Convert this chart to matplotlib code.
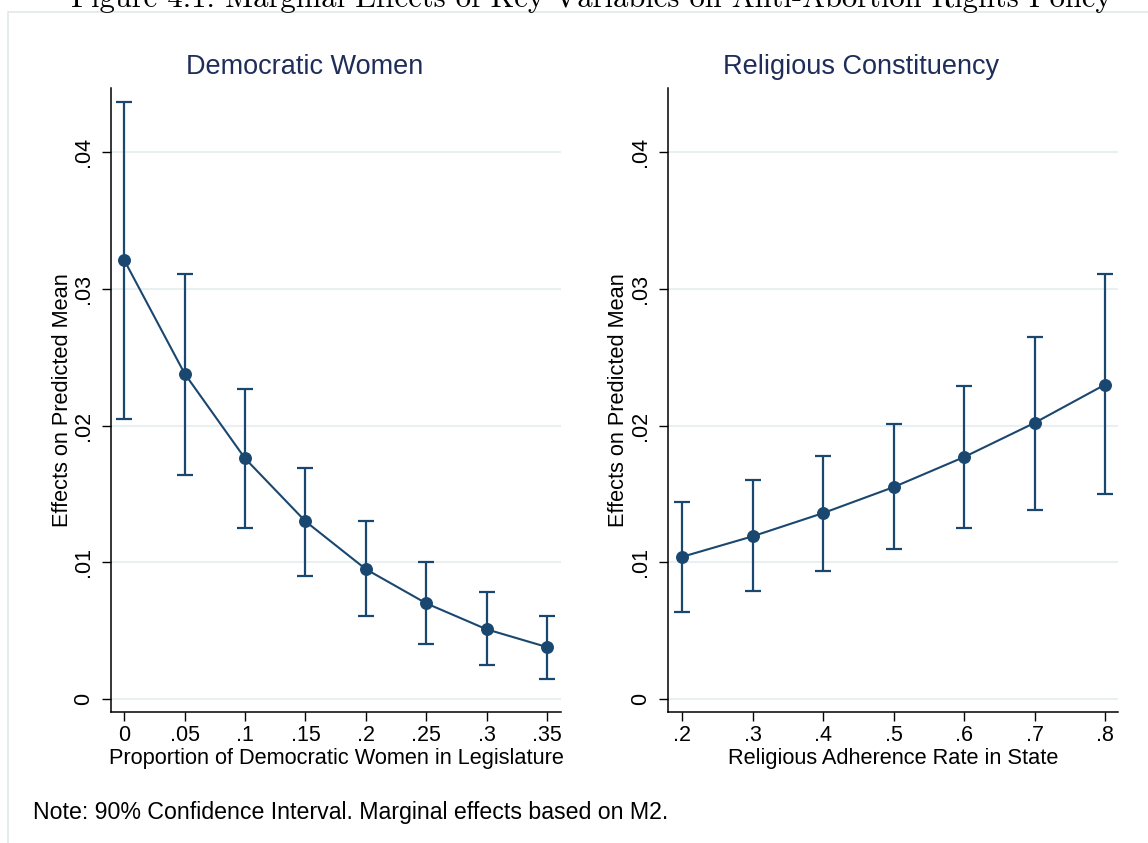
import matplotlib
matplotlib.use("Agg")
import matplotlib.pyplot as plt
from matplotlib.patches import Rectangle

# Marginal effects with 90% confidence bounds
dem_women_x = [0, 0.05, 0.10, 0.15, 0.20, 0.25, 0.30, 0.35]
dem_women_eff = [0.0321, 0.0238, 0.0176, 0.0130, 0.0095, 0.0070, 0.0051, 0.0038]
dem_women_lo = [0.0205, 0.0164, 0.0125, 0.0090, 0.0061, 0.0040, 0.0025, 0.0015]
dem_women_hi = [0.0437, 0.0311, 0.0227, 0.0169, 0.0130, 0.0100, 0.0078, 0.0061]

relig_x = [0.2, 0.3, 0.4, 0.5, 0.6, 0.7, 0.8]
relig_eff = [0.0104, 0.0119, 0.0136, 0.0155, 0.0177, 0.0202, 0.0230]
relig_lo = [0.0064, 0.0079, 0.0094, 0.0110, 0.0125, 0.0138, 0.0150]
relig_hi = [0.0144, 0.0160, 0.0178, 0.0201, 0.0229, 0.0265, 0.0311]

y_ticks = [0, 0.01, 0.02, 0.03, 0.04]
y_tick_labels = ["0", ".01", ".02", ".03", ".04"]
dem_x_ticks = [0, 0.05, 0.10, 0.15, 0.20, 0.25, 0.30, 0.35]
dem_x_labels = ["0", ".05", ".1", ".15", ".2", ".25", ".3", ".35"]
relig_x_ticks = [0.2, 0.3, 0.4, 0.5, 0.6, 0.7, 0.8]
relig_x_labels = [".2", ".3", ".4", ".5", ".6", ".7", ".8"]

NAVY = "#1a476f"
TITLE_COL = "#1f2d5a"
GRID = "#e9f0f2"
SANS = "Liberation Sans"

W, H = 1148, 843
fig = plt.figure(figsize=(W / 100, H / 100), dpi=100)
fig.patch.set_facecolor("white")

# Caption above the graph
fig.text(591 / W, 1 - 7 / H,
         "Figure 4.1: Marginal Effects of Key Variables on Anti-Abortion Rights Policy",
         ha="center", va="baseline", fontsize=22, family="cmr10", color="black")

# Light frame around the graph region
fig.add_artist(Rectangle((7.5 / W, -0.05), 1.2, 1 - 12 / H + 0.05,
                         transform=fig.transFigure, fill=False,
                         edgecolor="#e2e9eb", linewidth=1.2))

AX_W = 450


def panel(left_px, x, eff, lo, hi, xticks, xlabels, xlim, title, xlabel, title_cx):
    ax = fig.add_axes([left_px / W, (H - 712) / H, AX_W / W, 624 / H])
    ax.set_xlim(*xlim)
    ax.set_ylim(-0.00095, 0.0447)
    for s in ("top", "right"):
        ax.spines[s].set_visible(False)
    for s in ("left", "bottom"):
        ax.spines[s].set_linewidth(1.1)
        ax.spines[s].set_color("black")
    ax.set_yticks(y_ticks)
    ax.set_yticklabels(y_tick_labels, rotation=90, va="center", fontsize=15.5, family=SANS)
    ax.set_xticks(xticks)
    ax.set_xticklabels(xlabels, fontsize=15.5, family=SANS)
    ax.tick_params(length=6.5, width=1.0, color="black")
    ax.tick_params(axis="x", pad=3)
    ax.tick_params(axis="y", pad=6)
    for yv in y_ticks:
        ax.axhline(yv, color=GRID, lw=1.5, zorder=0)
    err = [[e - l for e, l in zip(eff, lo)], [h - e for e, h in zip(eff, hi)]]
    ax.errorbar(x, eff, yerr=err, fmt="none", ecolor=NAVY, elinewidth=1.6,
                capsize=5.5, capthick=1.6, zorder=2)
    ax.plot(x, eff, color=NAVY, lw=1.5, marker="o", markersize=8.3,
            markerfacecolor=NAVY, markeredgecolor=NAVY, zorder=3)
    ax.set_xlabel(xlabel, fontsize=15.7, family=SANS, labelpad=1)
    ax.set_ylabel("Effects on Predicted Mean", fontsize=15.7, family=SANS, va="center")
    ax.yaxis.set_label_coords(-49 / AX_W, 0.5)
    fig.text(title_cx / W, 1 - 67 / H, title, ha="center", va="center",
             fontsize=19.5, family=SANS, color=TITLE_COL)
    return ax


panel(111, dem_women_x, dem_women_eff, dem_women_lo, dem_women_hi,
      dem_x_ticks, dem_x_labels, (-0.0110, 0.3616),
      "Democratic Women", "Proportion of Democratic Women in Legislature", 305)
panel(668, relig_x, relig_eff, relig_lo, relig_hi,
      relig_x_ticks, relig_x_labels, (0.1801, 0.8184),
      "Religious Constituency", "Religious Adherence Rate in State", 861)

fig.text(33 / W, 1 - 812 / H,
         "Note: 90% Confidence Interval. Marginal effects based on M2.",
         ha="left", va="center", fontsize=16.7, family=SANS, color="black")

fig.savefig("out.png", dpi=100)
